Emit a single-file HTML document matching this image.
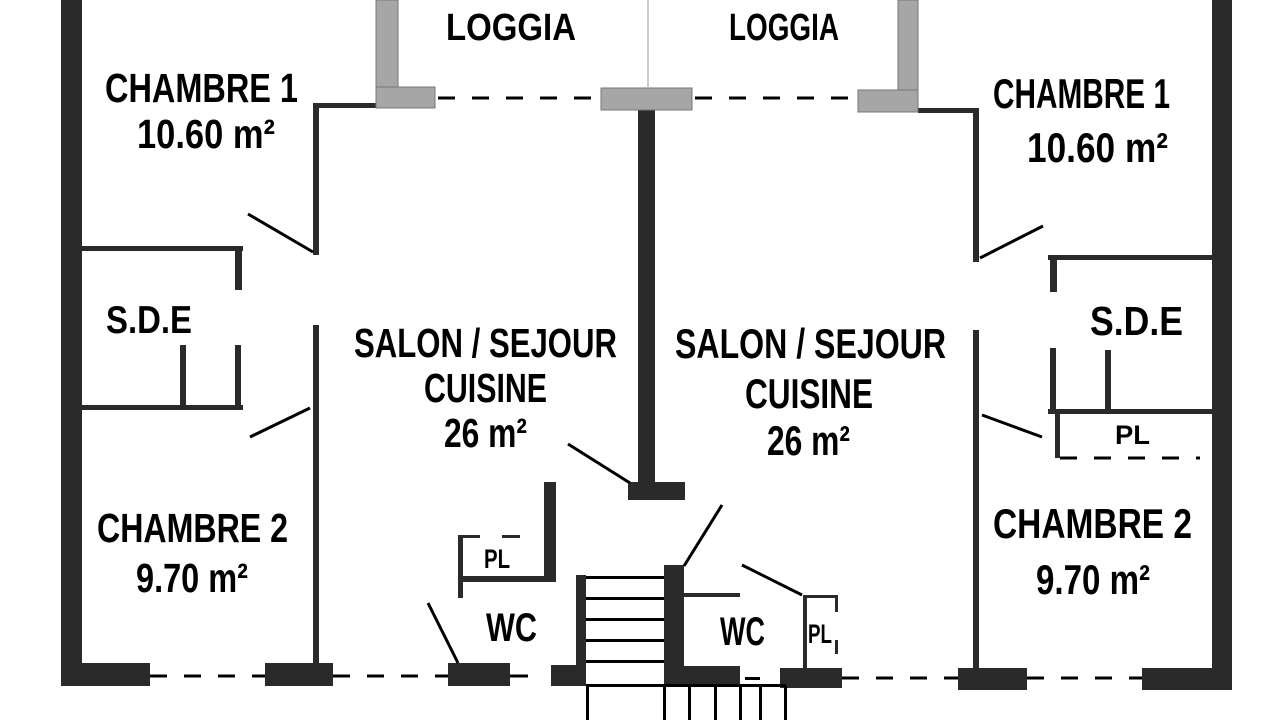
<!DOCTYPE html>
<html><head><meta charset="utf-8"><style>
html,body{margin:0;padding:0;background:#fff;}
svg{display:block}
text{font-family:"Liberation Sans Narrow","Liberation Sans",sans-serif;font-weight:bold;fill:#000}
</style></head><body>
<svg width="1280" height="720" viewBox="0 0 1280 720" xmlns="http://www.w3.org/2000/svg">
<g fill="#2a2a2a">
<rect x="61" y="0" width="21" height="686"/>
<rect x="61" y="663" width="89" height="23"/>
<rect x="265" y="663" width="68" height="23"/>
<rect x="448" y="663" width="62" height="23"/>
<rect x="1212" y="0" width="20" height="690"/>
<rect x="1142" y="668" width="90" height="22"/>
<rect x="958" y="668" width="69" height="22"/>
<rect x="780" y="668" width="62" height="20"/>
<rect x="638" y="110" width="17" height="375"/>
<rect x="628" y="482" width="57" height="18"/>
<rect x="313" y="103" width="6" height="152"/>
<rect x="313" y="103" width="63" height="5"/>
<rect x="82" y="246" width="161" height="5"/>
<rect x="235" y="246" width="7" height="44"/>
<rect x="82" y="405" width="161" height="5"/>
<rect x="180" y="345" width="6" height="62"/>
<rect x="235" y="345" width="6" height="62"/>
<rect x="313" y="325" width="6" height="340"/>
<rect x="973" y="108" width="6" height="154"/>
<rect x="918" y="108" width="61" height="5"/>
<rect x="1048" y="255" width="164" height="5"/>
<rect x="1050" y="255" width="7" height="37"/>
<rect x="1050" y="348" width="6" height="64"/>
<rect x="1105" y="350" width="6" height="62"/>
<rect x="1048" y="409" width="164" height="5"/>
<rect x="1055" y="414" width="5" height="44"/>
<rect x="973" y="330" width="6" height="338"/>
<rect x="544" y="482" width="12" height="100"/>
<rect x="458" y="576" width="98" height="6"/>
<rect x="458" y="535" width="5" height="63"/>
<rect x="458" y="535" width="22" height="3"/>
<rect x="502" y="535" width="18" height="3"/>
<rect x="576" y="575" width="10" height="111"/>
<rect x="551" y="665" width="35" height="21"/>
<rect x="664" y="565" width="20" height="121"/>
<rect x="684" y="666" width="56" height="20"/>
<rect x="684" y="593" width="56" height="4"/>
<rect x="803" y="595" width="4" height="73"/>
<rect x="803" y="595" width="35" height="3"/>
<rect x="835" y="595" width="3" height="17"/>
<rect x="835" y="640" width="3" height="14"/>
</g>
<g fill="#000">
<rect x="586" y="576" width="78" height="3"/>
<rect x="586" y="597" width="78" height="3"/>
<rect x="586" y="618" width="78" height="3"/>
<rect x="586" y="639" width="78" height="3"/>
<rect x="586" y="660" width="78" height="3"/>
<rect x="586" y="684" width="200" height="3"/>
<rect x="586" y="686" width="3" height="34"/>
<rect x="663" y="686" width="3" height="34"/>
<rect x="688" y="686" width="3" height="34"/>
<rect x="714" y="686" width="3" height="34"/>
<rect x="739" y="686" width="3" height="34"/>
<rect x="759" y="686" width="3" height="34"/>
<rect x="784" y="686" width="3" height="34"/>
<rect x="745" y="677" width="15" height="3"/>
</g>
<g fill="#a6a6a6" stroke="#777" stroke-width="1">
<rect x="376" y="0" width="22" height="108"/>
<rect x="376" y="87" width="59" height="21"/>
<rect x="601" y="88" width="91" height="22"/>
<rect x="898" y="0" width="20" height="112"/>
<rect x="858" y="90" width="60" height="22"/>
</g>
<line x1="648" y1="0" x2="648" y2="88" stroke="#bbb" stroke-width="1.5"/>
<g stroke="#000" stroke-width="3" stroke-dasharray="17,17" fill="none">
<line x1="438" y1="98" x2="600" y2="98"/>
<line x1="695" y1="98" x2="858" y2="98"/>
<line x1="150" y1="676" x2="265" y2="676"/>
<line x1="333" y1="676" x2="448" y2="676"/>
<line x1="842" y1="678" x2="958" y2="678"/>
<line x1="1027" y1="678" x2="1142" y2="678"/>
<line x1="1060" y1="458" x2="1200" y2="458"/>
</g>
<line x1="510" y1="676" x2="528" y2="676" stroke="#000" stroke-width="3"/>
<g stroke="#000" stroke-width="3">
<line x1="248" y1="214" x2="313" y2="252"/>
<line x1="250" y1="437" x2="310" y2="408"/>
<line x1="980" y1="258" x2="1043" y2="226"/>
<line x1="982" y1="415" x2="1042" y2="437"/>
<line x1="568" y1="444" x2="630" y2="483"/>
<line x1="684" y1="566" x2="722" y2="505"/>
<line x1="742" y1="565" x2="802" y2="595"/>
<line x1="428" y1="603" x2="458" y2="663"/>
</g>
<text x="446" y="40" font-size="38" textLength="130" lengthAdjust="spacingAndGlyphs">LOGGIA</text>
<text x="729" y="40" font-size="38" textLength="110" lengthAdjust="spacingAndGlyphs">LOGGIA</text>
<text x="105" y="102" font-size="41" textLength="193" lengthAdjust="spacingAndGlyphs">CHAMBRE 1</text>
<text x="137" y="148" font-size="41" textLength="138" lengthAdjust="spacingAndGlyphs">10.60 m²</text>
<text x="993" y="108" font-size="42" textLength="177" lengthAdjust="spacingAndGlyphs">CHAMBRE 1</text>
<text x="1027" y="162" font-size="42" textLength="141" lengthAdjust="spacingAndGlyphs">10.60 m²</text>
<text x="106" y="333" font-size="39" textLength="86" lengthAdjust="spacingAndGlyphs">S.D.E</text>
<text x="1090" y="335" font-size="41" textLength="93" lengthAdjust="spacingAndGlyphs">S.D.E</text>
<text x="354" y="357" font-size="41" textLength="263" lengthAdjust="spacingAndGlyphs">SALON / SEJOUR</text>
<text x="424" y="402" font-size="41" textLength="123" lengthAdjust="spacingAndGlyphs">CUISINE</text>
<text x="444" y="447" font-size="41" textLength="83" lengthAdjust="spacingAndGlyphs">26 m²</text>
<text x="675" y="358" font-size="42" textLength="271" lengthAdjust="spacingAndGlyphs">SALON / SEJOUR</text>
<text x="745" y="408" font-size="42" textLength="128" lengthAdjust="spacingAndGlyphs">CUISINE</text>
<text x="767" y="455" font-size="42" textLength="83" lengthAdjust="spacingAndGlyphs">26 m²</text>
<text x="97" y="542" font-size="41" textLength="191" lengthAdjust="spacingAndGlyphs">CHAMBRE 2</text>
<text x="136" y="592" font-size="41" textLength="112" lengthAdjust="spacingAndGlyphs">9.70 m²</text>
<text x="993" y="538" font-size="42" textLength="199" lengthAdjust="spacingAndGlyphs">CHAMBRE 2</text>
<text x="1036" y="594" font-size="42" textLength="114" lengthAdjust="spacingAndGlyphs">9.70 m²</text>
<text x="484" y="568" font-size="27" textLength="26" lengthAdjust="spacingAndGlyphs">PL</text>
<text x="486" y="641" font-size="40" textLength="51" lengthAdjust="spacingAndGlyphs">WC</text>
<text x="720" y="645" font-size="40" textLength="45" lengthAdjust="spacingAndGlyphs">WC</text>
<text x="808" y="643" font-size="27" textLength="24" lengthAdjust="spacingAndGlyphs">PL</text>
<text x="1115" y="444" font-size="27" textLength="35" lengthAdjust="spacingAndGlyphs">PL</text>
</svg>
</body></html>
